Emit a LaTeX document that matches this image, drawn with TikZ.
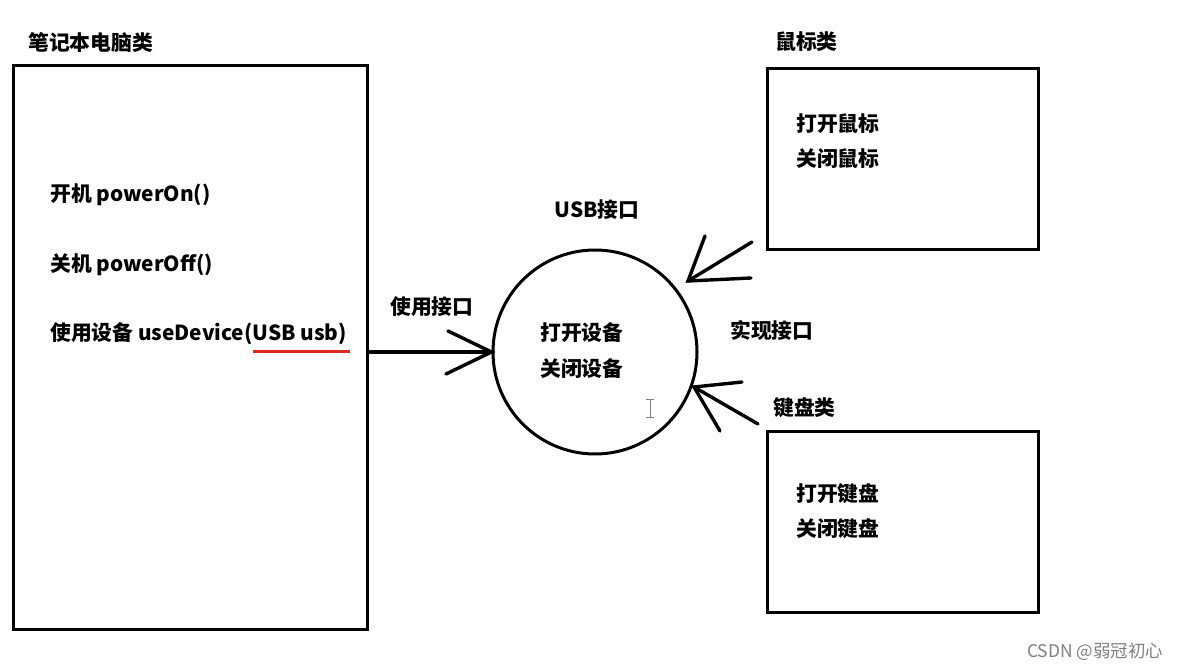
\documentclass[tikz,border=0pt]{standalone}
\usepackage{fontspec}
\setmainfont{Noto Sans CJK SC}
\definecolor{ulred}{RGB}{225,40,30}
\begin{document}
\begin{tikzpicture}[x=1pt,y=-1pt,
  box/.style={draw,line width=3.2pt},
  lbl/.style={font=\fontsize{20.8}{24}\selectfont\bfseries,anchor=west,inner sep=0pt},
  stroke/.style={line width=3.4pt,line cap=round}]
\useasboundingbox (0,0) rectangle (1179,671);
\fill[white] (0,0) rectangle (1179,671);
% laptop
\node[box,minimum width=354pt,minimum height=564pt,anchor=north west,inner sep=0pt] (laptop) at (12,64) {};
\node[lbl] (laptopT) at (28,43) {笔记本电脑类};
\node[lbl] (on) at (50,195) {开机 powerOn()};
\node[lbl] (off) at (50,265) {关机 powerOff()};
\node[lbl] (use) at (50,334) {使用设备 useDevice(USB usb)};
\coordinate (ulA) at (253,351);
\coordinate (ulB) at (350,351);
\draw[ulred,line width=3pt] (ulA) -- (ulB);
% interface circle
\node[draw,circle,line width=3pt,minimum size=204pt,inner sep=0pt] (usb) at (595,352) {};
\node[lbl,anchor=center] (usbT) at (597,210) {USB接口};
\node[lbl] (o1) at (540,333) {打开设备};
\node[lbl] (o2) at (540,369) {关闭设备};
\node[lbl] (useI) at (390,307) {使用接口};
\node[lbl] (impl) at (730,330) {实现接口};
% cursor artifact
\draw[gray,line width=1pt] (646,399) -- (654,399) (650,399) -- (650,417) (646,417) -- (654,417);
% laptop -> usb
\coordinate (h1) at (448,331);
\coordinate (h2) at (446,374);
\draw[stroke] (laptop.east |- usb.west) -- (usb.west);
\draw[stroke] (h1) -- (usb.west) -- (h2);
% mouse
\node[box,minimum width=271pt,minimum height=181pt,anchor=north west,inner sep=0pt] (mouse) at (766,67) {};
\node[lbl] (mouseT) at (775,42) {鼠标类};
\node[lbl] (m1) at (796,124) {打开鼠标};
\node[lbl] (m2) at (796,159) {关闭鼠标};
\coordinate (mA) at (688,281);
\coordinate (mS) at (752,242);
\coordinate (mH1) at (705,236);
\coordinate (mH2) at (751,278);
\draw[stroke] (mS) -- (mA);
\draw[stroke] (mH1) -- (mA) -- (mH2);
% keyboard
\node[box,minimum width=271pt,minimum height=181pt,anchor=north west,inner sep=0pt] (kbd) at (766,430) {};
\node[lbl] (kbdT) at (773,408) {键盘类};
\node[lbl] (k1) at (796,494) {打开键盘};
\node[lbl] (k2) at (796,529) {关闭键盘};
\coordinate (kA) at (694,387);
\coordinate (kS) at (758,424);
\coordinate (kH1) at (742,382);
\coordinate (kH2) at (720,431);
\draw[stroke] (kS) -- (kA);
\draw[stroke] (kH1) -- (kA) -- (kH2);
% watermark
\node[anchor=west,inner sep=0pt,text=gray,font=\fontsize{17.5}{20}\selectfont] (wm) at (1027,652) {CSDN @弱冠初心};
\end{tikzpicture}
\end{document}
